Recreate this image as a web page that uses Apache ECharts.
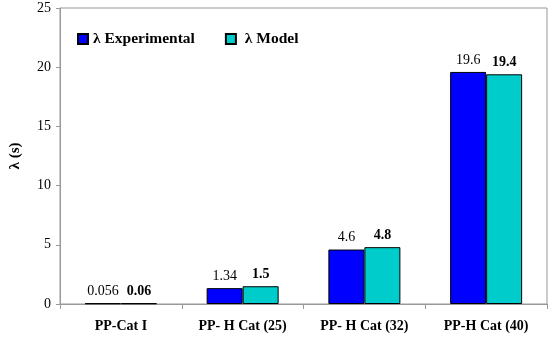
<!DOCTYPE html>
<html><head><meta charset="utf-8">
<script src="https://cdn.jsdelivr.net/npm/echarts@6/dist/echarts.min.js"></script>
<style>html,body{margin:0;padding:0;background:#fff}#c{width:550px;height:337px}</style>
</head><body><div id="c"></div>
<script>
const categories = ['PP-Cat I', 'PP- H Cat (25)', 'PP- H Cat (32)', 'PP-H Cat (40)'];
const experimental = [0.056, 1.34, 4.6, 19.6];
const model = [0.06, 1.5, 4.8, 19.4];
const expLabels = ['0.056', '1.34', '4.6', '19.6'];
const modelLabels = ['0.06', '1.5', '4.8', '19.4'];
const font = '"Liberation Serif", "Times New Roman", serif';
const chart = echarts.init(document.getElementById('c'));
chart.setOption({
  animation: false,
  grid: {left: 50, right: 3, top: 8, bottom: 33, show: true, borderColor: '#999', borderWidth: 1},
  legend: {
    left: 72, top: 26, itemGap: 30, itemWidth: 10, itemHeight: 10,
    icon: 'rect',
    formatter: n => n === 'λ Model' ? ' ' + n : n,
    textStyle: {fontFamily: font, fontWeight: 'bold', fontSize: 15.5, color: '#000'},
    data: ['λ Experimental', 'λ Model']
  },
  xAxis: {
    type: 'category', data: categories,
    axisLine: {lineStyle: {color: '#999'}},
    axisTick: {show: true, length: 5, lineStyle: {color: '#999'}},
    axisLabel: {fontFamily: font, fontWeight: 'bold', fontSize: 14, color: '#000', margin: 15}
  },
  yAxis: {
    type: 'value', min: 0, max: 25, interval: 5,
    name: 'λ (s)', nameLocation: 'middle', nameGap: 37, nameRotate: 90,
    nameTextStyle: {fontFamily: font, fontWeight: 'bold', fontSize: 15, color: '#000'},
    axisLine: {show: true, lineStyle: {color: '#999'}},
    axisTick: {show: true, length: 4, lineStyle: {color: '#999'}},
    splitLine: {show: false},
    axisLabel: {fontFamily: font, fontSize: 14, color: '#000', margin: 9}
  },
  series: [
    {
      name: 'λ Experimental', type: 'bar', data: experimental, barWidth: 36, barGap: '0%',
      itemStyle: {color: '#0000ff', borderColor: '#000', borderWidth: 1},
      label: {show: true, position: 'top', distance: 5, fontFamily: font, fontSize: 14, color: '#000',
        formatter: p => expLabels[p.dataIndex]}
    },
    {
      name: 'λ Model', type: 'bar', data: model, barWidth: 36,
      itemStyle: {color: '#00cccc', borderColor: '#000', borderWidth: 1},
      label: {show: true, position: 'top', distance: 5, fontFamily: font, fontSize: 14, fontWeight: 'bold', color: '#000',
        formatter: p => modelLabels[p.dataIndex]}
    }
  ]
});
</script></body></html>
